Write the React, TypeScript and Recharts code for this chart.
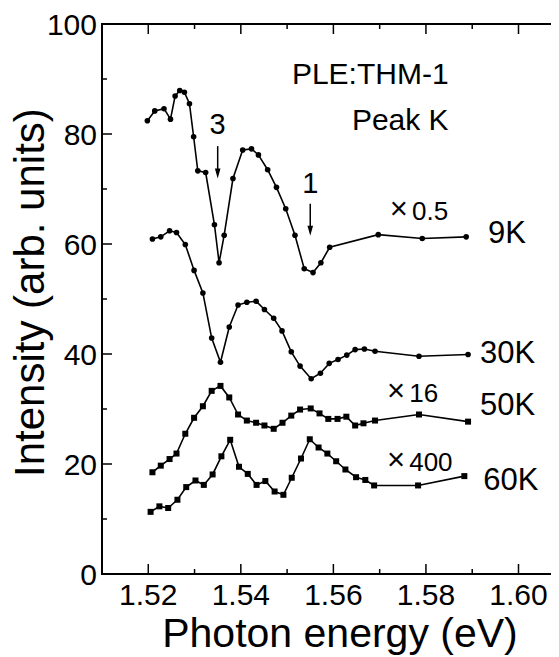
import {
  LineChart,
  Line,
  XAxis,
  YAxis,
  ReferenceLine,
  ReferenceDot,
} from 'recharts';

// PLE spectra of peak K at four temperatures (already scaled, see ×labels)
const energy9K = [
  1.5198, 1.5214, 1.5234, 1.5248, 1.5258, 1.5268, 1.5278, 1.5289, 1.5298, 1.5307,
  1.5324, 1.5343, 1.5353, 1.5364, 1.5383, 1.5404, 1.5423, 1.5438, 1.5458, 1.5477,
  1.5497, 1.5517, 1.5537, 1.5556, 1.5573, 1.5592, 1.5697, 1.5792, 1.5887,
];
const intensity9K = [
  82.4, 84.2, 84.6, 82.7, 86.9, 87.9, 87.6, 85.5, 79.5, 73.3,
  73.0, 63.5, 56.6, 61.6, 71.9, 77.1, 77.3, 76.2, 73.5, 70.3,
  66.4, 61.6, 55.5, 54.8, 56.6, 59.4, 61.7, 61.0, 61.3,
];

const energy30K = [
  1.5209, 1.5227, 1.5246, 1.5261, 1.528, 1.5299, 1.5318, 1.5337, 1.5356, 1.5375,
  1.5394, 1.5413, 1.5433, 1.5451, 1.5471, 1.5489, 1.5509, 1.5528, 1.5552, 1.5572,
  1.5591, 1.561, 1.5629, 1.5647, 1.5667, 1.569, 1.5785, 1.5891,
];
const intensity30K = [
  60.9, 61.3, 62.4, 62.1, 59.9, 55.2, 51.1, 42.9, 38.5, 44.9,
  48.9, 49.4, 49.6, 48.1, 46.5, 44.2, 40.4, 37.8, 35.5, 36.5,
  38.3, 39.0, 39.8, 40.8, 40.9, 40.5, 39.6, 39.9,
];

const energy50K = [
  1.5209, 1.5227, 1.5246, 1.5261, 1.528, 1.5299, 1.5318, 1.5337, 1.5356, 1.5375,
  1.5394, 1.5413, 1.5433, 1.5451, 1.5471, 1.549, 1.5509, 1.5528, 1.5551, 1.557,
  1.5589, 1.5609, 1.5628, 1.5647, 1.5665, 1.569, 1.5785, 1.5891,
];
const intensity50K = [
  18.5, 19.7, 20.9, 21.9, 25.5, 28.4, 30.5, 33.3, 34.2, 32.1,
  29.0, 27.9, 27.5, 27.0, 26.4, 27.5, 28.8, 29.9, 30.1, 29.2,
  28.2, 28.2, 28.6, 27.0, 27.4, 27.9, 29.0, 27.7,
];

const energy60K = [
  1.5205, 1.5224, 1.5243, 1.5263, 1.5282, 1.5302, 1.532, 1.5339, 1.5358, 1.5377,
  1.5396, 1.5415, 1.5434, 1.5453, 1.5473, 1.5492, 1.551, 1.553, 1.5549, 1.5568,
  1.5587, 1.5606, 1.5626, 1.5649, 1.5669, 1.5688, 1.5783, 1.5883,
];
const intensity60K = [
  11.3, 12.3, 12.0, 13.5, 15.8, 17.0, 16.2, 18.1, 21.4, 24.4,
  19.5, 18.2, 16.2, 16.9, 15.0, 14.4, 17.5, 21.0, 24.5, 23.0,
  21.9, 20.5, 19.0, 17.6, 17.1, 16.1, 16.1, 17.8,
];

const xDomain: [number, number] = [1.51, 1.6094];
const yDomain: [number, number] = [0, 100];
const xTicks = [1.52, 1.53, 1.54, 1.55, 1.56, 1.57, 1.58, 1.59, 1.6];
const yTicks = [0, 10, 20, 30, 40, 50, 60, 70, 80, 90, 100];

// peak markers: [label, energy, label y, arrow top, arrow tip]
const peakMarks: [string, number, number, number, number][] = [
  ['3', 1.535, 80.0, 77.8, 71.9],
  ['1', 1.555, 69.2, 67.3, 61.5],
];

const tempLabels: [string, number, number][] = [
  ['9K', 1.5934, 60.2],
  ['30K', 1.5917, 38.3],
  ['50K', 1.5917, 28.9],
  ['60K', 1.5924, 15.3],
];

const scaleLabels: [string, number, number][] = [
  ['0.5', 1.5722, 64.4],
  ['16', 1.5716, 31.3],
  ['400', 1.5716, 18.8],
];

const zip = (xs: number[], ys: number[]) => xs.map((x, i) => ({ x, y: ys[i] }));

const FONT = '"Liberation Sans", Arial, Helvetica, sans-serif';
const INK = '#000';

const CHART_W = 568;
const CHART_H = 649;
const MARGIN = { top: 16, right: 6, left: 8, bottom: 0 };
const Y_AXIS_W = 94;
const X_AXIS_H = 83;
const PLOT_LEFT = MARGIN.left + Y_AXIS_W;
const PLOT_TOP = MARGIN.top;
const PLOT_RIGHT = CHART_W - MARGIN.right;
const PLOT_BOTTOM = CHART_H - MARGIN.bottom - X_AXIS_H;
const BOX_W = 2;

const isMajorX = (v: number) => Math.round(v * 100) % 2 === 0;
const isMajorY = (v: number) => v % 20 === 0;
const tickLen = (major: boolean) => (major ? 10 : 5);

// each x tick also draws its mirror tick on the top side of the box
const BottomTick = (p: any) => {
  const major = isMajorX(p.payload.value);
  const len = tickLen(major);
  return (
    <g>
      <line x1={p.x} x2={p.x} y1={p.y} y2={p.y - len} stroke={INK} strokeWidth={1.5} />
      <line x1={p.x} x2={p.x} y1={PLOT_TOP} y2={PLOT_TOP + len} stroke={INK} strokeWidth={1.5} />
      {major && (
        <text x={p.x} y={p.y + 31} textAnchor="middle" fontSize={30} fontFamily={FONT} fill={INK}>
          {p.payload.value.toFixed(2)}
        </text>
      )}
    </g>
  );
};

// each y tick also draws its mirror tick on the right side of the box
const LeftTick = (p: any) => {
  const v = p.payload.value;
  const major = isMajorY(v);
  const len = tickLen(major);
  return (
    <g>
      <line x1={p.x} x2={p.x + len} y1={p.y} y2={p.y} stroke={INK} strokeWidth={1.5} />
      <line x1={PLOT_RIGHT} x2={PLOT_RIGHT - len} y1={p.y} y2={p.y} stroke={INK} strokeWidth={1.5} />
      {major && (
        <text x={p.x - 5} y={p.y + 11} textAnchor="end" fontSize={30} fontFamily={FONT} fill={INK}>
          {v}
        </text>
      )}
    </g>
  );
};

// x-axis title plus the closed box around the plot area (viewBox = x-axis band)
const XTitleAndBox = (p: any) => {
  const { x, y, width, height } = p.viewBox;
  return (
    <g>
      <rect x={x} y={PLOT_TOP} width={width} height={y - PLOT_TOP} fill="none" stroke={INK} strokeWidth={BOX_W} />
      <text x={x + width / 2 + 8} y={y + height - 10} textAnchor="middle" fontSize={41} fontFamily={FONT} fill={INK}>
        Photon energy (eV)
      </text>
    </g>
  );
};

const YTitle = (p: any) => (
  <text
    transform={`translate(${p.viewBox.x + 36}, ${p.viewBox.y + p.viewBox.height - 97}) rotate(-90)`}
    textAnchor="start"
    fontSize={42}
    fontFamily={FONT}
    fill={INK}
  >
    Intensity (arb. units)
  </text>
);

const Square = (p: any) => (
  <rect key={`sq-${p.index}`} x={p.cx - 3} y={p.cy - 3} width={6} height={6} fill={INK} />
);
const Round = (p: any) => <circle key={`ci-${p.index}`} cx={p.cx} cy={p.cy} r={2.8} fill={INK} />;

const Arrow = (p: any) => (
  <g>
    <line x1={p.x1} y1={p.y1} x2={p.x2} y2={p.y2 - 8} stroke={INK} strokeWidth={1.5} />
    <polygon points={`${p.x2 - 2.8},${p.y2 - 10} ${p.x2 + 2.8},${p.y2 - 10} ${p.x2},${p.y2}`} fill={INK} />
  </g>
);

const note = (text: string, size: number, anchor: 'start' | 'middle' | 'end' = 'start') =>
  (p: any) => (
    <text x={p.viewBox.x} y={p.viewBox.y} textAnchor={anchor} fontSize={size} fontFamily={FONT} fill={INK}>
      {text}
    </text>
  );

const scaleNote = (factor: string) => (p: any) => (
  <text x={p.viewBox.x} y={p.viewBox.y} fontFamily={FONT} fill={INK}>
    <tspan fontSize={31} dy={-1}>×</tspan>
    <tspan fontSize={26} dy={1} dx={4}>{factor}</tspan>
  </text>
);

export default function App() {
  return (
    <div style={{ position: 'relative', width: 559, height: CHART_H, marginLeft: -8, overflow: 'hidden' }}>
      <LineChart width={CHART_W} height={CHART_H} margin={MARGIN}>
        <XAxis
          xAxisId="b"
          type="number"
          dataKey="x"
          domain={xDomain}
          ticks={xTicks}
          interval={0}
          tickSize={0}
          tickMargin={0}
          tickLine={false}
          tick={BottomTick}
          axisLine={false}
          height={X_AXIS_H}
          label={{ content: XTitleAndBox }}
        />
        <YAxis
          yAxisId="l"
          type="number"
          domain={yDomain}
          ticks={yTicks}
          interval={0}
          tickSize={0}
          tickMargin={0}
          tickLine={false}
          tick={LeftTick}
          axisLine={false}
          width={Y_AXIS_W}
          label={{ content: YTitle }}
        />

        <Line xAxisId="b" yAxisId="l" data={zip(energy9K, intensity9K)} dataKey="y" type="linear"
          stroke={INK} strokeWidth={1.6} dot={Round} activeDot={false} isAnimationActive={false} />
        <Line xAxisId="b" yAxisId="l" data={zip(energy30K, intensity30K)} dataKey="y" type="linear"
          stroke={INK} strokeWidth={1.6} dot={Round} activeDot={false} isAnimationActive={false} />
        <Line xAxisId="b" yAxisId="l" data={zip(energy50K, intensity50K)} dataKey="y" type="linear"
          stroke={INK} strokeWidth={1.6} dot={Square} activeDot={false} isAnimationActive={false} />
        <Line xAxisId="b" yAxisId="l" data={zip(energy60K, intensity60K)} dataKey="y" type="linear"
          stroke={INK} strokeWidth={1.6} dot={Square} activeDot={false} isAnimationActive={false} />

        {peakMarks.map(([name, e, , top, tip]) => (
          <ReferenceLine
            key={`arrow-${name}`}
            xAxisId="b"
            yAxisId="l"
            segment={[{ x: e, y: top }, { x: e, y: tip }]}
            shape={Arrow}
          />
        ))}
        {peakMarks.map(([name, e, ly]) => (
          <ReferenceDot key={`peak-${name}`} xAxisId="b" yAxisId="l" x={e} y={ly} r={0}
            label={note(name, 29, 'middle')} />
        ))}
        {tempLabels.map(([name, e, y]) => (
          <ReferenceDot key={`temp-${name}`} xAxisId="b" yAxisId="l" x={e} y={y} r={0}
            label={note(name, 31)} />
        ))}
        {scaleLabels.map(([factor, e, y]) => (
          <ReferenceDot key={`scale-${factor}`} xAxisId="b" yAxisId="l" x={e} y={y} r={0}
            label={scaleNote(factor)} />
        ))}
        <ReferenceDot xAxisId="b" yAxisId="l" x={1.5849} y={89.1} r={0}
          label={note('PLE:THM-1', 30, 'end')} />
        <ReferenceDot xAxisId="b" yAxisId="l" x={1.5849} y={80.7} r={0}
          label={note('Peak K', 30, 'end')} />
      </LineChart>
      {/* plot box outline laid over the chart surface */}
      <div
        style={{
          position: 'absolute',
          left: PLOT_LEFT - BOX_W / 2,
          top: PLOT_TOP - BOX_W / 2,
          width: PLOT_RIGHT - PLOT_LEFT + BOX_W,
          height: PLOT_BOTTOM - PLOT_TOP + BOX_W,
          border: `${BOX_W}px solid ${INK}`,
          boxSizing: 'border-box',
          pointerEvents: 'none',
        }}
      />
    </div>
  );
}
